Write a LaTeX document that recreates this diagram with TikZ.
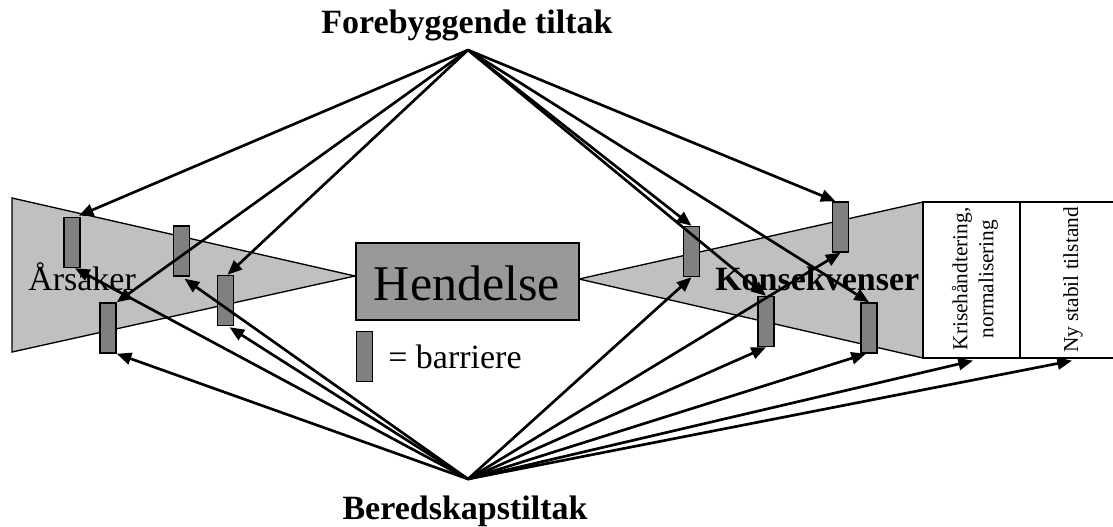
\documentclass[tikz,border=0pt]{standalone}
\usepackage{fontspec}
\setmainfont{Liberation Serif}
\usetikzlibrary{arrows.meta,calc}
\definecolor{lightg}{RGB}{192,192,192}
\definecolor{midg}{RGB}{153,153,153}
\definecolor{darkg}{RGB}{128,128,128}
\tikzset{
  px/.style={x=0.75pt,y=-0.75pt},
  wedge/.style={fill=lightg,draw=black,line width=1pt,line join=miter},
  barrier/.style={rectangle,fill=darkg,draw=black,line width=1.1pt,minimum width=12pt,minimum height=37.5pt,inner sep=0pt},
  eventbox/.style={rectangle,fill=midg,draw=black,line width=1.1pt,minimum width=167pt,minimum height=58pt,inner sep=0pt},
  phasebox/.style={rectangle,fill=white,draw=black,line width=1pt,minimum height=117pt,inner sep=0pt},
  phasetext/.style={rotate=90,align=center,font=\fontsize{16}{19.5}\selectfont,inner sep=0pt},
  bigtxt/.style={font=\fontsize{25.5}{28}\selectfont,inner sep=0pt},
  boldtxt/.style={font=\fontsize{25.5}{28}\selectfont\bfseries,inner sep=0pt},
  arr/.style={-{Triangle[length=11pt,width=9pt]},line width=2pt},
}
\begin{document}
\begin{tikzpicture}[px]
\clip (0,0) rectangle (1113,526);
\fill[white] (0,0) rectangle (1113,526);
% wedges
\draw[wedge] (12,198) -- (355,276) -- (12,352) -- cycle;
\draw[wedge] (579,279) -- (923,202) -- (923,358) -- cycle;
% phase boxes
\node[phasebox,minimum width=72.75pt] (kris) at (971.5,280) {};
\node[phasebox,minimum width=76.5pt] (ny) at (1071,280) {};
\node[phasetext] (krist) at (975,279) {Krisehåndtering,\\normalisering};
\node[phasetext] (nyt) at (1073,280) {Ny stabil tilstand};
% event
\node[eventbox] (hend) at (467.5,281.5) {};
\node[font=\fontsize{37.5}{40}\selectfont,inner sep=0pt,anchor=base] (hendt) at (467,300) {Hendelse};
% texts
\node[bigtxt,anchor=base west] (ars) at (28,290) {Årsaker};
\node[boldtxt,anchor=base west] (kons) at (715,290) {Konsekvenser};
\node[boldtxt,anchor=base] (fore) at (467,33) {Forebyggende tiltak};
\node[boldtxt,anchor=base] (bered) at (465,519) {Beredskapstiltak};
% legend
\node[barrier] (leg) at (364.5,356.5) {};
\node[bigtxt,anchor=base west] (legt) at (388,368) {= barriere};
% barriers
\node[barrier] (b1) at (72,242.5) {};
\node[barrier] (b2) at (108,328) {};
\node[barrier] (b3) at (181.5,251) {};
\node[barrier] (b4) at (225.5,300.5) {};
\node[barrier] (b5) at (691.5,251.5) {};
\node[barrier] (b6) at (840.5,227) {};
\node[barrier] (b7) at (766,321.5) {};
\node[barrier] (b8) at (869,328) {};
% apexes
\coordinate (top) at (468,50);
\coordinate (bot) at (468,479);
% preventive arrows
\draw[arr] (top) -- ($(b1.north east)+(-2,-1)$);
\draw[arr] (top) -- (b2.north east);
\draw[arr] (top) -- ($(b4.north)+(2,0)$);
\draw[arr] (top) -- (b5.north);
\draw[arr] (top) -- (b7.north);
\draw[arr] (top) -- (b8.north);
\draw[arr] (top) -- ($(b6.north)+(-5,0)$);
% preparedness arrows
\draw[arr] (bot) -- ($(b1.south)+(3,0)$);
\draw[arr] (bot) -- (b2.south east);
\draw[arr] (bot) -- ($(b3.south)+(3,2)$);
\draw[arr] (bot) -- ($(b4.south)+(4,1)$);
\draw[arr] (bot) -- (b5.south);
\draw[arr] (bot) -- (b6.south);
\draw[arr] (bot) -- (b7.south);
\draw[arr] (bot) -- ($(b8.south)+(-3,0)$);
\draw[arr] (bot) -- ($(kris.south)+(1.5,2)$);
\draw[arr] (bot) -- ($(ny.south)+(1,2)$);
\end{tikzpicture}
\end{document}
